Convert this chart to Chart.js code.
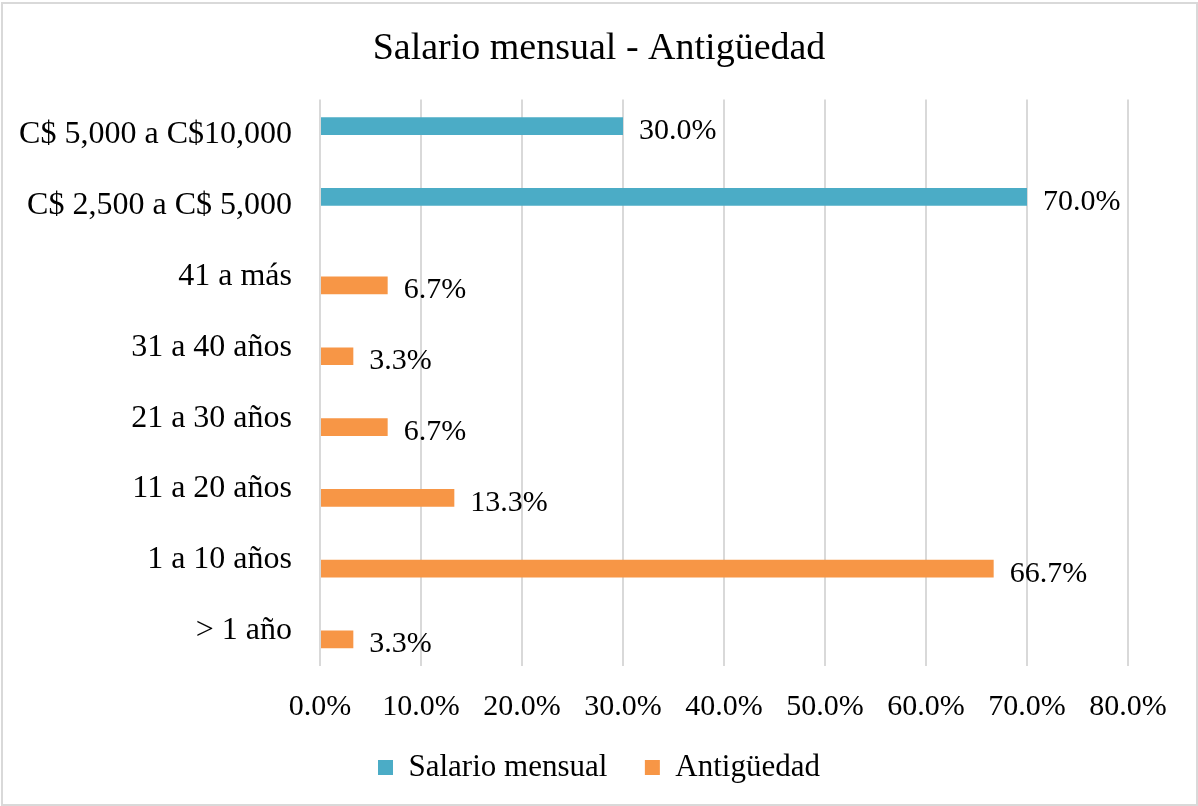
<!DOCTYPE html>
<html>
<head>
<meta charset="utf-8">
<script src="https://cdn.jsdelivr.net/npm/chart.js@4"></script>
<style>
  html, body { margin: 0; padding: 0; background: #fff; }
  #wrap { position: relative; width: 1198px; height: 806px; }
</style>
</head>
<body>
<div id="wrap"><canvas id="bar-chart" width="1198" height="806"></canvas></div>
<script>
// Data
var categorias = ["C$ 5,000 a C$10,000", "C$ 2,500 a C$ 5,000", "41 a más", "31 a 40 años",
                  "21 a 30 años", "11 a 20 años", "1 a 10 años", "> 1 año"];
var salario = [30.0, 70.0, null, null, null, null, null, null];
var antiguedad = [null, null, 6.7, 3.3, 6.7, 13.3, 66.7, 3.3];
var ticksX = [0, 10, 20, 30, 40, 50, 60, 70, 80];

var serif = "'Liberation Serif', 'Times New Roman', serif";

// white background + thin grey frame
var frame = {
  id: 'frame',
  beforeDraw: function (chart) {
    var ctx = chart.ctx;
    ctx.save();
    ctx.fillStyle = '#fff';
    ctx.fillRect(0, 0, chart.width, chart.height);
    ctx.strokeStyle = '#d9d9d9';
    ctx.lineWidth = 2;
    ctx.strokeRect(2, 3, chart.width - 3, chart.height - 4);
    ctx.restore();
  }
};

// value labels to the right of each bar
var etiquetas = {
  id: 'etiquetas',
  afterDatasetsDraw: function (chart) {
    var ctx = chart.ctx;
    ctx.save();
    ctx.font = '30px ' + serif;
    ctx.fillStyle = '#000';
    ctx.textAlign = 'left';
    ctx.textBaseline = 'middle';
    chart.data.datasets.forEach(function (ds, i) {
      chart.getDatasetMeta(i).data.forEach(function (bar, j) {
        var v = ds.data[j];
        if (v === null) return;
        ctx.fillText(v.toFixed(1) + '%', bar.x + 16, bar.y + 5);
      });
    });
    ctx.restore();
  }
};

new Chart(document.getElementById("bar-chart"), {
  type: 'bar',
  data: {
    labels: categorias,
    datasets: [
      { label: "Salario mensual", backgroundColor: '#4bacc6', data: salario },
      { label: "Antigüedad", backgroundColor: '#f79646', data: antiguedad }
    ]
  },
  options: {
    indexAxis: 'y',
    responsive: false,
    animation: false,
    categoryPercentage: 0.5,
    barPercentage: 1.0,
    layout: { padding: { left: 0, right: 0, top: 8, bottom: 13 } },
    scales: {
      x: {
        min: 0, max: 80,
        afterBuildTicks: function (scale) {
          scale.ticks = ticksX.map(function (v) { return { value: v }; });
        },
        afterFit: function (scale) {
          scale.height -= 18;
          scale.paddingRight = 70;
        },
        grid: { color: '#d9d9d9', lineWidth: 2, drawTicks: false, tickLength: 0 },
        border: { display: false },
        ticks: {
          padding: 23,
          color: '#000',
          font: { family: serif, size: 30 },
          callback: function (v) { return v.toFixed(1) + '%'; }
        }
      },
      y: {
        grid: { display: false, drawTicks: false, tickLength: 0 },
        border: { display: false },
        afterFit: function (scale) { scale.width = 320; },
        ticks: {
          padding: 28,
          color: '#000',
          font: { family: serif, size: 32 }
        }
      }
    },
    plugins: {
      title: {
        display: true,
        text: 'Salario mensual - Antigüedad',
        color: '#000',
        font: { family: serif, size: 38, weight: 'normal' },
        padding: { top: 18, bottom: 28 }
      },
      legend: {
        position: 'bottom',
        labels: {
          color: '#000',
          boxWidth: 15,
          boxHeight: 15,
          padding: 22,
          font: { family: serif, size: 31 },
          generateLabels: function (chart) {
            var items = Chart.defaults.plugins.legend.labels.generateLabels(chart);
            items.forEach(function (it, i) {
              if (i < items.length - 1) it.text = it.text + '\u00a0\u00a0';
            });
            return items;
          }
        }
      },
      tooltip: { enabled: false }
    }
  },
  plugins: [frame, etiquetas]
});
</script>
</body>
</html>
